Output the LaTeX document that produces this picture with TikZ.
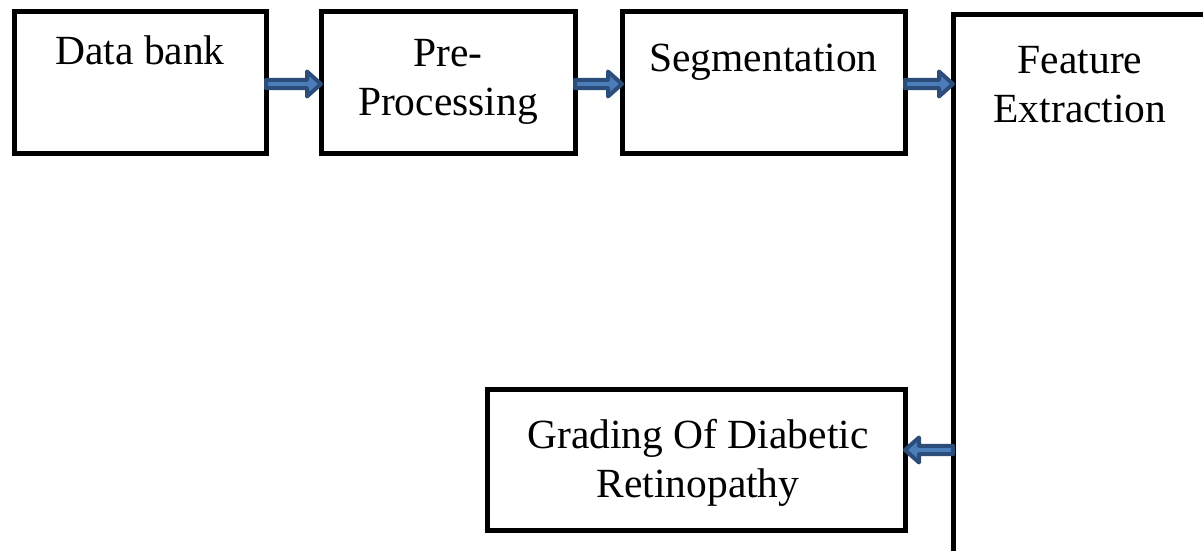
\documentclass[tikz,border=0pt]{standalone}
\usepackage{fontspec}
\setmainfont{Liberation Serif}
\usetikzlibrary{positioning,calc}
\definecolor{arrowdark}{HTML}{2C4D7A}
\definecolor{arrowlight}{HTML}{4A7DBA}

\begin{document}
\begin{tikzpicture}[x=1pt, y=1pt,
    box/.style={draw, line width=5pt, outer sep=0pt, inner sep=0pt},
    lbl/.style={anchor=base, align=center, inner sep=0pt,
      font=\fontsize{41.5}{49}\selectfont},
    blockarrow/.style={draw=arrowdark, fill=arrowlight, line width=4pt,
      line join=round, to path={
        let \p1=(\tikztostart), \p2=(\tikztotarget),
            \n1={sign(\x2-\x1)} in
        (\x1,\y1+4.2pt) -- (\x2-\n1*14pt,\y1+4.2pt)
        -- (\x2-\n1*14pt,\y1+12.5pt) -- (\x2,\y1)
        -- (\x2-\n1*14pt,\y1-12.5pt) -- (\x2-\n1*14pt,\y1-4.2pt)
        -- (\x1,\y1-4.2pt) -- cycle}}]
    \useasboundingbox (0,0) rectangle (1203,-551);
    \clip (0,0) rectangle (1203,-551);

    \node [box, minimum width=252pt, minimum height=141pt] (bank) at (140,-82.5) {};
    \node [box, minimum width=254pt, minimum height=141pt, right=55pt of bank] (prep) {};
    \node [box, minimum width=283pt, minimum height=141pt, right=47pt of prep] (seg) {};
    \node [box, minimum width=254pt, minimum height=585pt, anchor=north west,
      yshift=-3pt] (feat) at ([xshift=48pt]seg.north east) {};
    \node [box, minimum width=418pt, minimum height=141pt, anchor=south east]
      (grade) at (seg.east |- 0,-530) {};

    % base of a two-line label is its last line
    \node [lbl] (banktext) at ([yshift=-53pt]bank.north) {Data bank};
    \node [lbl] (preptext) at ([yshift=-103pt]prep.north) {Pre-\\Processing};
    \node [lbl] (segtext) at ([yshift=-60pt]seg.north) {Segmentation};
    \node [lbl] (feattext) at ([yshift=-107pt]feat.north) {Feature\\Extraction};
    \node [lbl] (gradetext) at ([xshift=2pt, yshift=-108pt]grade.north)
      {Grading Of Diabetic\\Retinopathy};

    \path [blockarrow] (bank.east |- 0,-84) to (prep.west |- 0,-84);
    \path [blockarrow] (prep.east |- 0,-84) to (seg.west |- 0,-84);
    \path [blockarrow] (seg.east |- 0,-84) to (feat.west |- 0,-84);
    \path [blockarrow] (feat.west |- 0,-450) to (grade.east |- 0,-450);
\end{tikzpicture}
\end{document}
